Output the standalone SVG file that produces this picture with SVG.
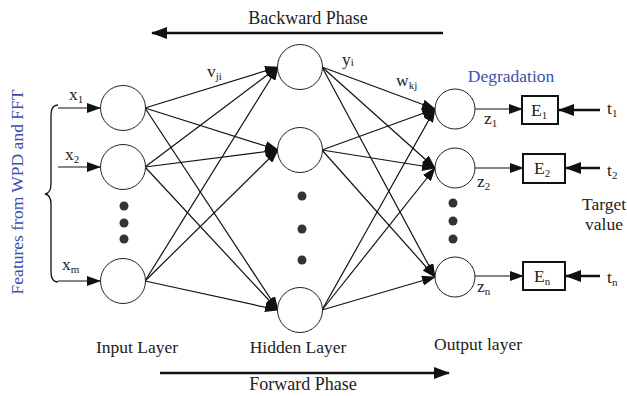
<svg xmlns="http://www.w3.org/2000/svg" width="627" height="396" viewBox="0 0 627 396">
<style>
text{font-family:"Liberation Serif","Times New Roman",serif;fill:#222;}
.lbl{font-size:17.5px;}
.sub{font-size:11px;}
.blue{fill:#3a4fb0;}
.node{fill:#fff;stroke:#222;stroke-width:1;}
.edge{stroke:#111;stroke-width:1.2;fill:none;marker-end:url(#ah);}
.thick{stroke:#111;stroke-width:2.5;fill:none;}
.box{fill:#fff;stroke:#111;stroke-width:2;}
.dot{fill:#333;}
</style>
<defs>
<marker id="ah" markerUnits="userSpaceOnUse" markerWidth="14" markerHeight="10" refX="13" refY="5" orient="auto">
<path d="M0,0 L14,5 L0,10 Z" fill="#111"/>
</marker>
<marker id="ahb" markerUnits="userSpaceOnUse" markerWidth="16" markerHeight="12" refX="15" refY="6" orient="auto">
<path d="M0,0 L16,6 L0,12 Z" fill="#111"/>
</marker>
</defs>
<g id="connectors">
<line class="edge" x1="145" y1="108" x2="278" y2="67"/>
<line class="edge" x1="145" y1="108" x2="278" y2="150"/>
<line class="edge" x1="145" y1="108" x2="278" y2="310"/>
<line class="edge" x1="145" y1="167" x2="278" y2="67"/>
<line class="edge" x1="145" y1="167" x2="278" y2="150"/>
<line class="edge" x1="145" y1="167" x2="278" y2="310"/>
<line class="edge" x1="145" y1="281" x2="278" y2="67"/>
<line class="edge" x1="145" y1="281" x2="278" y2="150"/>
<line class="edge" x1="145" y1="281" x2="278" y2="310"/>
<line class="edge" x1="322" y1="67" x2="435" y2="109"/>
<line class="edge" x1="322" y1="67" x2="435" y2="168"/>
<line class="edge" x1="322" y1="67" x2="435" y2="277"/>
<line class="edge" x1="322" y1="150" x2="435" y2="109"/>
<line class="edge" x1="322" y1="150" x2="435" y2="168"/>
<line class="edge" x1="322" y1="150" x2="435" y2="277"/>
<line class="edge" x1="322" y1="310" x2="435" y2="109"/>
<line class="edge" x1="322" y1="310" x2="435" y2="168"/>
<line class="edge" x1="322" y1="310" x2="435" y2="277"/>
<line class="edge" x1="58" y1="108" x2="100" y2="108"/>
<line class="edge" x1="58" y1="167" x2="100" y2="167"/>
<line class="edge" x1="58" y1="281" x2="100" y2="281"/>
<line class="edge" x1="475" y1="109" x2="522" y2="109"/>
<line class="edge" x1="475" y1="168" x2="523" y2="168"/>
<line class="edge" x1="475" y1="276" x2="523" y2="276"/>
<line class="thick" x1="600" y1="110" x2="559" y2="110" marker-end="url(#ahb)"/>
<line class="thick" x1="600" y1="168" x2="566" y2="168" marker-end="url(#ahb)"/>
<line class="thick" x1="600" y1="276" x2="566" y2="276" marker-end="url(#ahb)"/>
<line class="thick" x1="443" y1="33" x2="152" y2="33" marker-end="url(#ahb)"/>
<line class="thick" x1="160" y1="373" x2="449" y2="373" marker-end="url(#ahb)"/>
<path d="M58,105 Q51,105 51,115 L51,184 Q51,193 45,194 Q51,195 51,204 L51,272 Q51,282 58,282" fill="none" stroke="#111" stroke-width="1.3"/>
</g>
<g id="input-nodes">
<g id="in1"><circle class="node" cx="123" cy="108" r="22.5"/></g>
<g id="in2"><circle class="node" cx="123" cy="167" r="22.5"/></g>
<g id="inm"><circle class="node" cx="123" cy="281" r="22.5"/></g>
<circle class="dot" cx="124" cy="206" r="4.5"/>
<circle class="dot" cx="124" cy="223" r="4.5"/>
<circle class="dot" cx="124" cy="239" r="4.5"/>
</g>
<g id="hidden-nodes">
<g id="h1"><circle class="node" cx="300" cy="67" r="22.5"/></g>
<g id="h2"><circle class="node" cx="300" cy="150" r="22.5"/></g>
<g id="hn"><circle class="node" cx="300" cy="310" r="22.5"/></g>
<circle class="dot" cx="302" cy="196" r="4.5"/>
<circle class="dot" cx="302" cy="229" r="4.5"/>
<circle class="dot" cx="302" cy="260" r="4.5"/>
</g>
<g id="output-nodes">
<g id="o1"><circle class="node" cx="455" cy="109" r="20"/></g>
<g id="o2"><circle class="node" cx="455" cy="168" r="20"/></g>
<g id="on"><circle class="node" cx="455" cy="277" r="20"/></g>
<circle class="dot" cx="453" cy="203" r="4.5"/>
<circle class="dot" cx="453" cy="221" r="4.5"/>
<circle class="dot" cx="453" cy="239" r="4.5"/>
</g>
<g id="error-nodes">
<g id="E1"><rect class="box" x="522" y="96" width="36" height="28"/><text class="lbl" x="531" y="116">E<tspan class="sub" dy="3">1</tspan></text></g>
<g id="E2"><rect class="box" x="523" y="154" width="42" height="29"/><text class="lbl" x="534" y="174">E<tspan class="sub" dy="3">2</tspan></text></g>
<g id="En"><rect class="box" x="523" y="262" width="42" height="28"/><text class="lbl" x="534" y="282">E<tspan class="sub" dy="3">n</tspan></text></g>
</g>
<g id="labels">
<text class="lbl" x="308" y="24" text-anchor="middle" style="font-size:18px">Backward Phase</text>
<text class="lbl" x="303" y="390" text-anchor="middle" style="font-size:18px">Forward Phase</text>
<text class="lbl" x="137" y="353" text-anchor="middle">Input Layer</text>
<text class="lbl" x="298" y="353" text-anchor="middle">Hidden Layer</text>
<text class="lbl" x="478" y="350" text-anchor="middle">Output layer</text>
<text class="lbl blue" x="511" y="82" text-anchor="middle">Degradation</text>
<text class="lbl blue" transform="translate(23,192) rotate(-90)" text-anchor="middle">Features from WPD and FFT</text>
<text class="lbl" x="604" y="210" text-anchor="middle">Target</text>
<text class="lbl" x="604" y="230" text-anchor="middle">value</text>
<text class="lbl" x="69" y="100">x<tspan class="sub" dy="3">1</tspan></text>
<text class="lbl" x="65" y="160">x<tspan class="sub" dy="3">2</tspan></text>
<text class="lbl" x="62" y="270">x<tspan class="sub" dy="3">m</tspan></text>
<text class="lbl" x="207" y="77">v<tspan class="sub" dy="3">ji</tspan></text>
<text class="lbl" x="342" y="65">y<tspan class="sub" dy="1">i</tspan></text>
<text class="lbl" x="396" y="86">w<tspan class="sub" dy="3">kj</tspan></text>
<text class="lbl" x="484" y="124">z<tspan class="sub" dy="3">1</tspan></text>
<text class="lbl" x="477" y="187">z<tspan class="sub" dy="3">2</tspan></text>
<text class="lbl" x="477" y="292">z<tspan class="sub" dy="3">n</tspan></text>
<text class="lbl" x="607" y="114">t<tspan class="sub" dy="3">1</tspan></text>
<text class="lbl" x="607" y="176">t<tspan class="sub" dy="3">2</tspan></text>
<text class="lbl" x="607" y="283">t<tspan class="sub" dy="3">n</tspan></text>
</g>
</svg>
